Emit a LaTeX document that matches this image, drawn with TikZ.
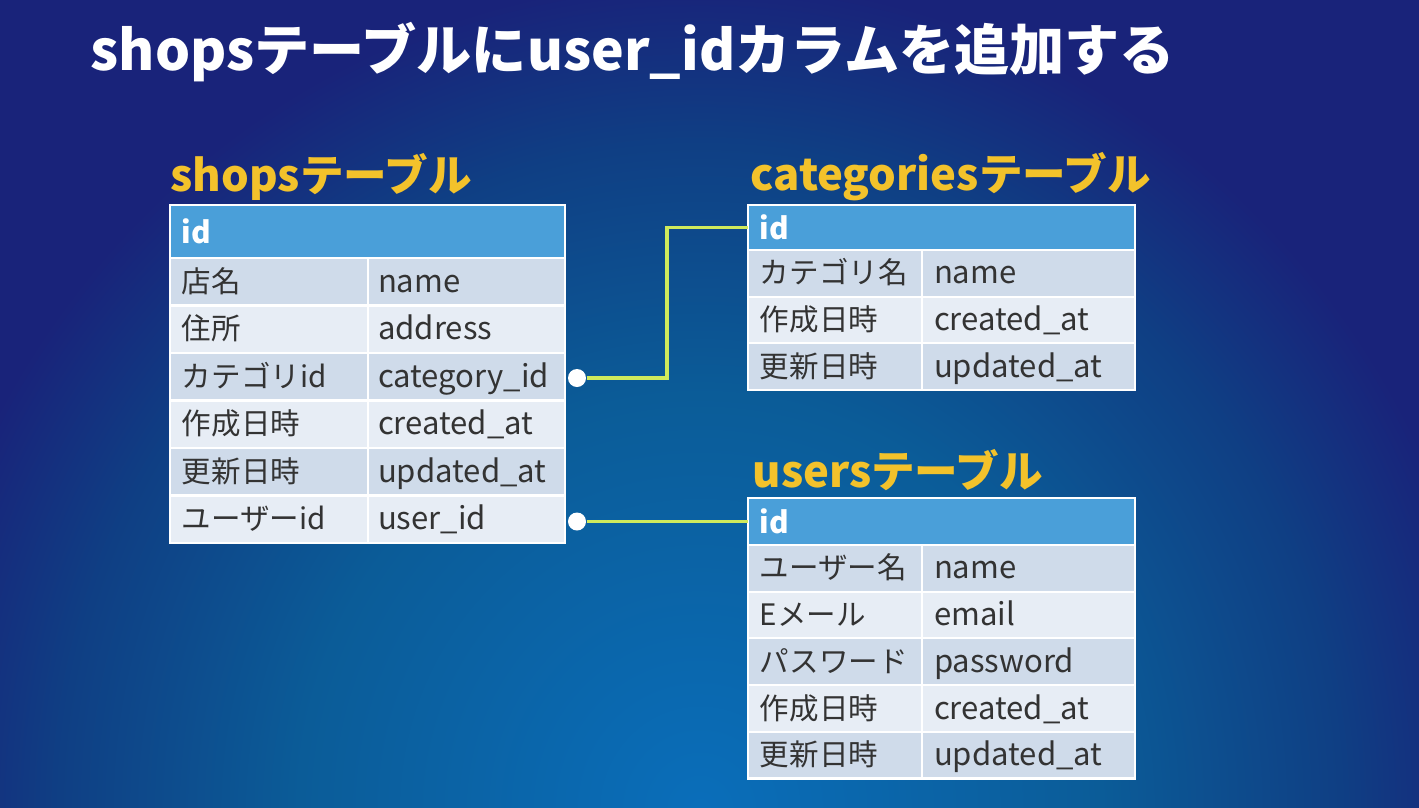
\documentclass[tikz,border=0pt]{standalone}
\usepackage{fontspec}
\setmainfont{Noto Sans CJK JP}
\usetikzlibrary{positioning}

\definecolor{bgdark}{HTML}{19237A}
\definecolor{bgdeep}{HTML}{0F3F84}
\definecolor{bgmid}{HTML}{0B5C98}
\definecolor{bgglow}{HTML}{0A6EBA}
\definecolor{hdrblue}{HTML}{4A9FD9}
\definecolor{rowdark}{HTML}{CFDBEA}
\definecolor{rowlight}{HTML}{E7EDF5}
\definecolor{celltext}{HTML}{333333}
\definecolor{tblgold}{HTML}{F3C22B}
\definecolor{linkgreen}{HTML}{CFEA5C}

\pgfdeclareradialshading{slidebg}{\pgfpoint{0bp}{0bp}}{color(0bp)=(bgglow); color(25bp)=(bgmid); color(40bp)=(bgdeep); color(50bp)=(bgdark); color(75bp)=(bgdark)}

\tikzset{
  title/.style={anchor=west, inner sep=0pt, text=white, font=\bfseries\fontsize{15.7}{18}\selectfont},
  tname/.style={anchor=west, inner sep=0pt, text=tblgold, font=\bfseries\fontsize{12.4}{14}\selectfont},
  hdr/.style={anchor=north west, fill=hdrblue, draw=white, line width=0.6pt, outer sep=0pt, text=white, font=\bfseries\fontsize{8.5}{10}\selectfont, inner xsep=0.12cm, inner ysep=0pt, align=left},
  cell/.style={anchor=north west, draw=white, line width=0.6pt, outer sep=0pt, text=celltext, inner xsep=0.12cm, inner ysep=0pt, text height=7pt, text depth=1pt, align=left},
  sl/.style={cell, font=\fontsize{8.4}{10}\selectfont, text width=1.74cm, minimum height=0.475cm},
  sr/.style={cell, font=\fontsize{8.85}{10}\selectfont, inner xsep=0.1cm, text width=1.77cm, minimum height=0.475cm},
  cl/.style={cell, font=\fontsize{8.4}{10}\selectfont, text width=1.50cm, minimum height=0.467cm},
  cr/.style={cell, font=\fontsize{8.85}{10}\selectfont, text width=1.89cm, minimum height=0.467cm},
  dot/.style={circle, fill=white, inner sep=0pt, minimum size=0.18cm},
  link/.style={linkgreen, line width=0.9pt}
}

\begin{document}
\begin{tikzpicture}

  % Background
  \fill[bgdark] (0,0) rectangle (14.19,-8.07);
  \begin{scope}
    \clip (0,0) rectangle (14.19,-8.07);
    \node[inner sep=0pt, transform canvas={shift={(7.0,-8.1)}, xscale=4.54, yscale=4.71}] (glow) at (0,0) {\pgfuseshading{slidebg}};
  \end{scope}
  \useasboundingbox (0,0) rectangle (14.19,-8.07);

  \node[title] (ttl) at (0.90,-0.52) {shopsテーブルにuser\_idカラムを追加する};

  % shops table
  \node[tname] (stitle) at (1.70,-1.77) {shopsテーブル};
  \node[hdr, text width=3.71cm, minimum height=0.53cm] (shd) at (1.70,-2.05) {id};
  \node[sl, fill=rowdark] (s1) at (1.70,-2.58) {店名};
  \node[sl, fill=rowlight, below=0pt of s1] (s2) {住所};
  \node[sl, fill=rowdark, below=0pt of s2] (s3) {カテゴリid};
  \node[sl, fill=rowlight, below=0pt of s3] (s4) {作成日時};
  \node[sl, fill=rowdark, below=0pt of s4] (s5) {更新日時};
  \node[sl, fill=rowlight, below=0pt of s5] (s6) {ユーザーid};
  \node[sr, fill=rowdark, right=0pt of s1] (s1r) {name};
  \node[sr, fill=rowlight, right=0pt of s2] (s2r) {address};
  \node[sr, fill=rowdark, right=0pt of s3] (s3r) {category\_id};
  \node[sr, fill=rowlight, right=0pt of s4] (s4r) {created\_at};
  \node[sr, fill=rowdark, right=0pt of s5] (s5r) {updated\_at};
  \node[sr, fill=rowlight, right=0pt of s6] (s6r) {user\_id};

  % categories table
  \node[tname] (ctitle) at (7.50,-1.77) {categoriesテーブル};
  \node[hdr, text width=3.63cm, minimum height=0.45cm] (chd) at (7.48,-2.05) {id};
  \node[cl, fill=rowdark] (c1) at (7.48,-2.50) {カテゴリ名};
  \node[cl, fill=rowlight, below=0pt of c1] (c2) {作成日時};
  \node[cl, fill=rowdark, below=0pt of c2] (c3) {更新日時};
  \node[cr, fill=rowdark, right=0pt of c1] (c1r) {name};
  \node[cr, fill=rowlight, right=0pt of c2] (c2r) {created\_at};
  \node[cr, fill=rowdark, right=0pt of c3] (c3r) {updated\_at};

  % users table
  \node[tname] (utitle) at (7.52,-4.70) {usersテーブル};
  \node[hdr, text width=3.63cm, minimum height=0.47cm] (uhd) at (7.48,-4.98) {id};
  \node[cl, fill=rowdark] (u1) at (7.48,-5.45) {ユーザー名};
  \node[cl, fill=rowlight, below=0pt of u1] (u2) {Eメール};
  \node[cl, fill=rowdark, below=0pt of u2] (u3) {パスワード};
  \node[cl, fill=rowlight, below=0pt of u3] (u4) {作成日時};
  \node[cl, fill=rowdark, below=0pt of u4] (u5) {更新日時};
  \node[cr, fill=rowdark, right=0pt of u1] (u1r) {name};
  \node[cr, fill=rowlight, right=0pt of u2] (u2r) {email};
  \node[cr, fill=rowdark, right=0pt of u3] (u3r) {password};
  \node[cr, fill=rowlight, right=0pt of u4] (u4r) {created\_at};
  \node[cr, fill=rowdark, right=0pt of u5] (u5r) {updated\_at};

  % Links
  \node[dot] (d1) at (5.77,-3.78) {};
  \node[dot] (d2) at (5.77,-5.215) {};
  \draw[link] (d1) -- ++(0.90,0) |- (chd.west);
  \draw[link] (d2) -- (d2 -| uhd.west);

\end{tikzpicture}
\end{document}
